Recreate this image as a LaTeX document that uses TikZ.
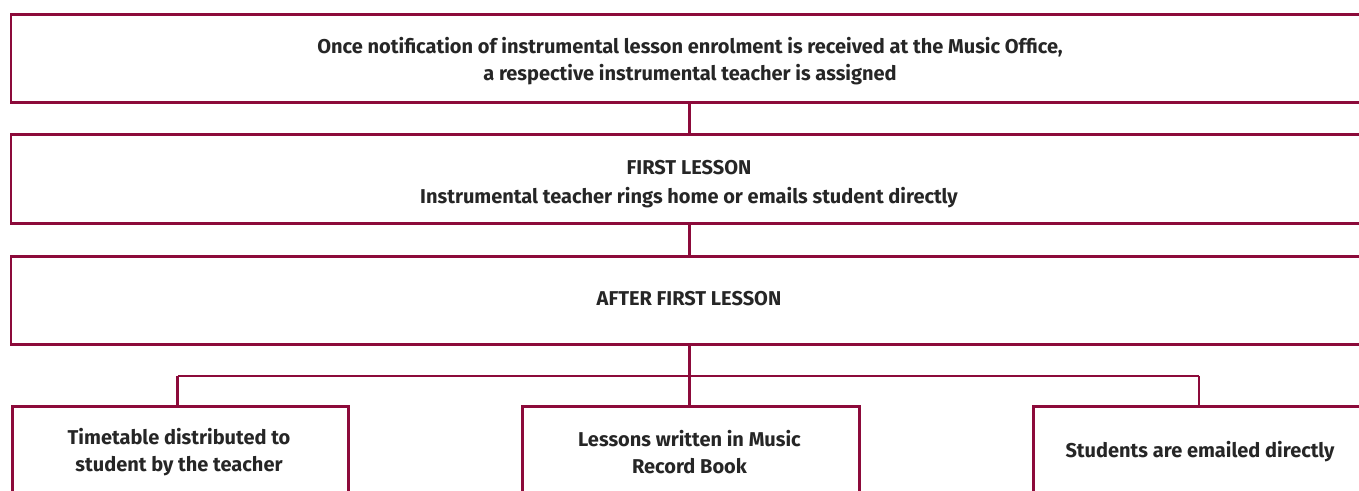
\documentclass[tikz,border=0pt]{standalone}
\usepackage{fontspec}
\setmainfont{Fira Sans}
\definecolor{maroon}{RGB}{140,10,58}
\definecolor{txt}{RGB}{38,38,38}
\tikzset{
  box/.style={draw=maroon, line width=2.7pt, rectangle, inner sep=0pt, anchor=north west},
  lbl/.style={text=txt, font=\bfseries\fontsize{20}{26.5}\selectfont, align=center, inner sep=0pt},
  link/.style={draw=maroon, line width=2.7pt}
}
\begin{document}
\begin{tikzpicture}[x=1pt,y=-1pt]
\useasboundingbox (0,0) rectangle (1359,490);
\clip (0,0) rectangle (1359,490);
\fill[white] (0,0) rectangle (1359,490);
% boxes
\node[box, minimum width=1370pt, minimum height=88pt] (b1) at (9.5,13) {};
\node[box, minimum width=1370pt, minimum height=89pt] (b2) at (9.5,133) {};
\node[box, minimum width=1370pt, minimum height=88pt] (b3) at (9.5,255) {};
\node[box, minimum width=336pt, minimum height=130pt] (c1) at (11,405) {};
\node[box, minimum width=337pt, minimum height=130pt] (c2) at (521,405) {};
\node[box, minimum width=350pt, minimum height=130pt] (c3) at (1032,405) {};
% texts
\node[lbl] (t1) at (690,61) {Once notification of instrumental lesson enrolment is received at the Music Office,\\a respective instrumental teacher is assigned};
\node[lbl] (t2a) at (689,167.5) {FIRST LESSON};
\node[lbl] (t2b) at (689,197.5) {Instrumental teacher rings home or emails student directly};
\node[lbl] (t3) at (689,299) {AFTER FIRST LESSON};
\node[lbl] (u1) at (179,452) {Timetable distributed to\\student by the teacher};
\node[lbl] (u2) at (689.5,452) {Lessons written in Music\\Record Book};
\node[lbl] (u3) at (1200,452) {Students are emailed directly};
% connectors
\coordinate (x2) at (689.5,0);
\coordinate (bl) at (177.5,376);
\coordinate (bm) at (689.5,376);
\coordinate (br) at (1199,376);
\draw[link] (b1.south -| x2) -- (b2.north -| x2);
\draw[link] (b2.south -| x2) -- (b3.north -| x2);
\draw[link] (b3.south -| x2) -- (c2.north -| x2);
\draw[link] (bl) -- (br);
\draw[link] (bl) -- (c1.north -| bl);
\draw[link] (br) -- (c3.north -| br);
\end{tikzpicture}
\end{document}
